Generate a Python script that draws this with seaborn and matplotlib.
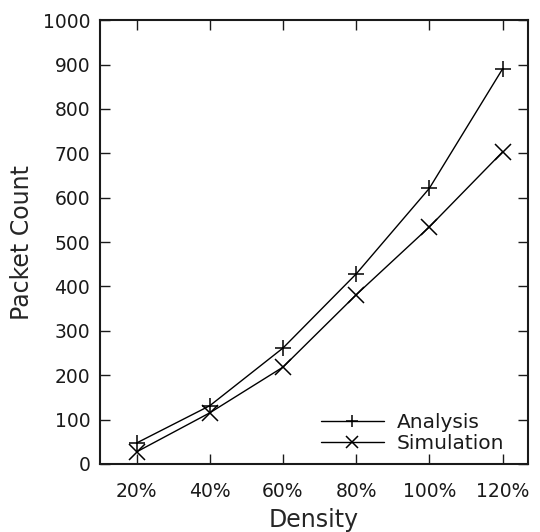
import matplotlib
matplotlib.use('Agg')
import matplotlib.pyplot as plt
import pandas as pd
import seaborn as sns

densities = ['20%', '40%', '60%', '80%', '100%', '120%']
analysis = [47, 131, 261, 428, 621, 890]
simulation = [27, 115, 218, 381, 534, 703]

df = pd.DataFrame({
    'pos': list(range(len(densities))) * 2,
    'count': analysis + simulation,
    'series': ['Analysis'] * len(densities) + ['Simulation'] * len(densities),
})

sns.set_style('ticks')
plt.rcParams['font.family'] = ['DejaVu Sans']
plt.rcParams['text.color'] = '#1a1a1a'

fig, ax = plt.subplots(figsize=(5.4, 5.32), dpi=100)
sns.lineplot(data=df, x='pos', y='count', style='series', markers={'Analysis': '+', 'Simulation': 'x'},
             dashes=False, color='black', linewidth=1, markersize=12, markeredgewidth=1.1,
             markeredgecolor='black', ax=ax)

ax.set_xlim(-0.5, 5.35)
ax.set_ylim(0, 1000)
ax.set_xticks(range(len(densities)))
ax.set_xticklabels(densities)
ax.set_yticks(range(0, 1001, 100))
ax.tick_params(direction='in', top=True, right=True, labelsize=13.5, length=7.5, width=1,
               pad=7, colors='#1a1a1a')
ax.tick_params(axis='x', pad=13)
for s in ax.spines.values():
    s.set_linewidth(1.5)
    s.set_color('#1a1a1a')
ax.set_xlabel('Density', fontsize=17, labelpad=5)
ax.set_ylabel('Packet Count', fontsize=17, labelpad=6)

leg = ax.legend(loc='lower right', bbox_to_anchor=(0.944, 0.025), frameon=False, fontsize=14.5,
                handlelength=3.1, markerscale=0.75, borderpad=0, borderaxespad=0,
                labelspacing=0.1, handletextpad=0.65)
leg.set_title(None)

fig.subplots_adjust(left=0.185, right=0.978, top=0.962, bottom=0.128)
fig.savefig('out.png', dpi=100)
